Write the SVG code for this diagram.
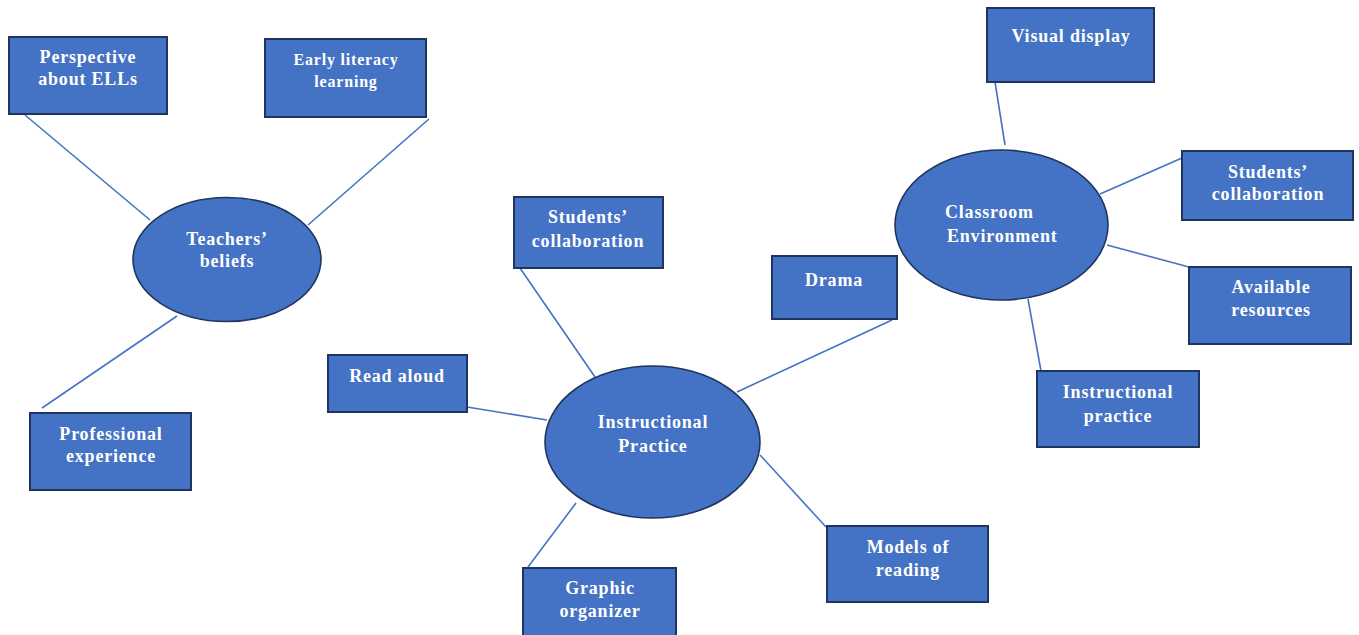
<svg xmlns="http://www.w3.org/2000/svg" width="1359" height="635" viewBox="0 0 1359 635">
  <style>
    .box { fill: #4472C4; stroke: #1F3560; stroke-width: 2; }
    .hub { fill: #4472C4; stroke: #1F3560; stroke-width: 1.6; }
    .link { stroke: #4472C4; stroke-width: 1.6; fill: none; }
    .lbl { font-family: "Liberation Serif", "Times New Roman", serif; font-weight: bold; font-size: 18px; fill: #FFFFFF; text-anchor: middle; letter-spacing: 0.8px; }
    .small { font-size: 16px; }
    .left { text-anchor: start; }
  </style>
  <rect width="1359" height="635" fill="#FFFFFF"/>

  <!-- connectors -->
  <g id="connectors">
    <line class="link" x1="25" y1="115" x2="150" y2="220"/>
    <line class="link" x1="429" y1="119" x2="308" y2="225"/>
    <line class="link" x1="177" y1="316" x2="42" y2="408"/>
    <line class="link" x1="467" y1="407" x2="547" y2="420"/>
    <line class="link" x1="520" y1="268" x2="595" y2="377"/>
    <line class="link" x1="892" y1="320" x2="737" y2="392"/>
    <line class="link" x1="760" y1="455" x2="826" y2="527"/>
    <line class="link" x1="576" y1="503" x2="528" y2="567"/>
    <line class="link" x1="995" y1="82" x2="1005" y2="145"/>
    <line class="link" x1="1182" y1="158" x2="1100" y2="194"/>
    <line class="link" x1="1107" y1="245" x2="1189" y2="267"/>
    <line class="link" x1="1028" y1="299" x2="1041" y2="371"/>
  </g>

  <!-- Teachers' beliefs cluster -->
  <g id="teachers-beliefs">
    <ellipse class="hub" cx="227" cy="259.5" rx="94" ry="62"/>
    <text class="lbl" x="227" y="245">Teachers’</text>
    <text class="lbl" x="227" y="267">beliefs</text>
  </g>
  <g id="perspective-ells">
    <rect class="box" x="9" y="37" width="158" height="77"/>
    <text class="lbl" x="88" y="63">Perspective</text>
    <text class="lbl" x="88" y="85">about ELLs</text>
  </g>
  <g id="early-literacy">
    <rect class="box" x="265" y="39" width="161" height="78"/>
    <text class="lbl small" x="346" y="65">Early literacy</text>
    <text class="lbl small" x="346" y="87">learning</text>
  </g>
  <g id="professional-experience">
    <rect class="box" x="30" y="413" width="161" height="77"/>
    <text class="lbl" x="111" y="440">Professional</text>
    <text class="lbl" x="111" y="462">experience</text>
  </g>

  <!-- Instructional Practice cluster -->
  <g id="instructional-practice">
    <ellipse class="hub" cx="652.5" cy="442" rx="107.5" ry="76"/>
    <text class="lbl" x="653" y="428">Instructional</text>
    <text class="lbl" x="653" y="452">Practice</text>
  </g>
  <g id="read-aloud">
    <rect class="box" x="328" y="355" width="139" height="57"/>
    <text class="lbl" x="397" y="382">Read aloud</text>
  </g>
  <g id="students-collaboration-ip">
    <rect class="box" x="514" y="197" width="149" height="71"/>
    <text class="lbl" x="588" y="223">Students’</text>
    <text class="lbl" x="588" y="247">collaboration</text>
  </g>
  <g id="drama">
    <rect class="box" x="772" y="256" width="125" height="63"/>
    <text class="lbl" x="834" y="286">Drama</text>
  </g>
  <g id="models-of-reading">
    <rect class="box" x="827" y="526" width="161" height="76"/>
    <text class="lbl" x="908" y="553">Models of</text>
    <text class="lbl" x="908" y="576">reading</text>
  </g>
  <g id="graphic-organizer">
    <rect class="box" x="523" y="568" width="153" height="75"/>
    <text class="lbl" x="600" y="594">Graphic</text>
    <text class="lbl" x="600" y="617">organizer</text>
  </g>

  <!-- Classroom Environment cluster -->
  <g id="classroom-environment">
    <ellipse class="hub" cx="1001.5" cy="225" rx="106.5" ry="75"/>
    <text class="lbl left" x="945" y="218">Classroom</text>
    <text class="lbl left" x="947" y="242">Environment</text>
  </g>
  <g id="visual-display">
    <rect class="box" x="987" y="8" width="167" height="74"/>
    <text class="lbl" x="1071" y="42">Visual display</text>
  </g>
  <g id="students-collaboration-ce">
    <rect class="box" x="1182" y="151" width="171" height="69"/>
    <text class="lbl" x="1268" y="178">Students’</text>
    <text class="lbl" x="1268" y="200">collaboration</text>
  </g>
  <g id="available-resources">
    <rect class="box" x="1189" y="267" width="162" height="77"/>
    <text class="lbl" x="1271" y="293">Available</text>
    <text class="lbl" x="1271" y="316">resources</text>
  </g>
  <g id="instructional-practice-ce">
    <rect class="box" x="1037" y="371" width="162" height="76"/>
    <text class="lbl" x="1118" y="398">Instructional</text>
    <text class="lbl" x="1118" y="422">practice</text>
  </g>
</svg>
